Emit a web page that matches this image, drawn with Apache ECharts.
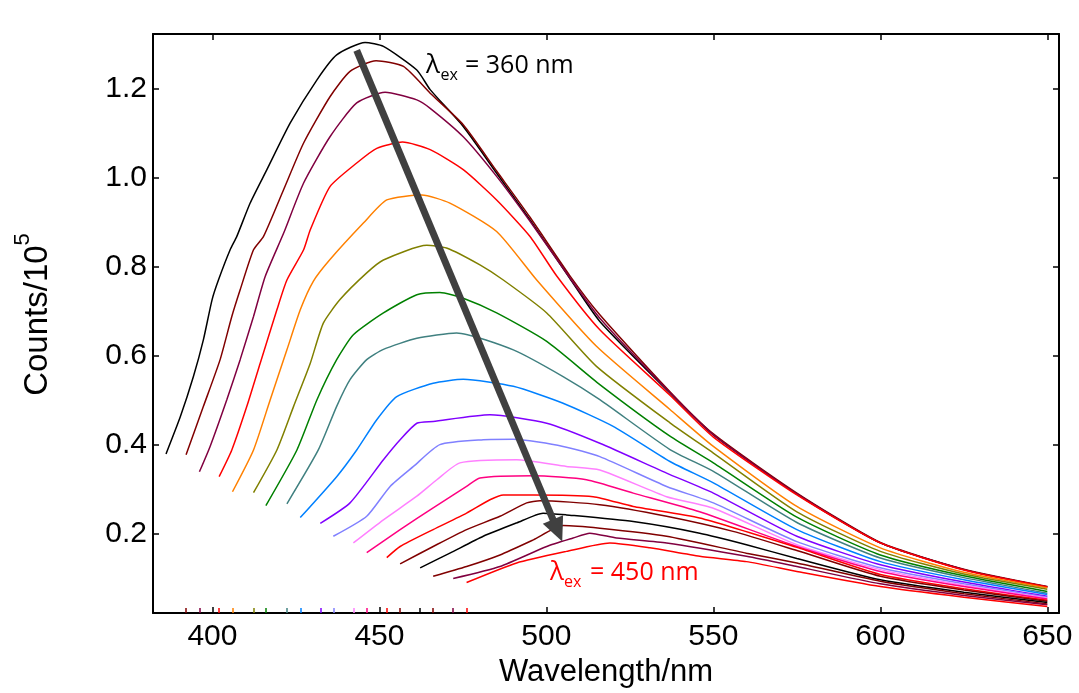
<!DOCTYPE html>
<html><head><meta charset="utf-8">
<script src="https://cdn.jsdelivr.net/npm/echarts@6/dist/echarts.min.js"></script>
<style>html,body{margin:0;padding:0;background:#fff}#c{width:1079px;height:693px}</style>
</head><body><div id="c"></div>
<script>
// Excitation wavelengths (nm), one emission curve each
const excitation = [360,365,370,375,380,385,390,395,400,405,410,415,420,425,430,435,440,445,450];
const curveColors = ['#000000','#800000','#800040','#ff0000','#ff8000','#808000','#008000','#408080','#0080ff','#8000ff','#8080ff','#ff80ff','#ff0080','#ff0000','#800000','#000000','#800000','#800040','#ff0000'];

// Emission spectra: [wavelength nm, counts/1e5]
const ex360 = [[386.1,0.380],[390.4,0.464],[394.3,0.554],[397.3,0.637],[399.9,0.727],[401.8,0.771],[405.3,0.839],[407.3,0.869],[411.3,0.944],[416.3,1.019],[423.3,1.124],[431.3,1.221],[437.2,1.277],[445.7,1.305],[451.2,1.296],[461.2,1.243],[465.2,1.199],[475.1,1.116],[485.1,1.011],[495.1,0.906],[507.0,0.775],[516,0.678],[537,0.517],[550,0.423],[575,0.290],[600,0.180],[625,0.120],[650,0.081]];
const ex365 = [[392.1,0.378],[397.3,0.487],[402.3,0.592],[405.8,0.689],[408.3,0.749],[412.3,0.839],[415.3,0.869],[421.3,0.974],[427.3,1.079],[435.2,1.183],[441.2,1.240],[449.0,1.264],[457.2,1.251],[465.2,1.191],[475.1,1.120],[485.1,1.016],[495.1,0.912],[507.0,0.781],[516,0.693],[537,0.520],[550,0.425],[575,0.292],[600,0.181],[625,0.121],[650,0.082]];
const ex370 = [[396.1,0.340],[399.3,0.397],[404.3,0.502],[408.3,0.592],[412.3,0.689],[415.8,0.779],[421.3,0.876],[427.3,0.989],[435.2,1.093],[443.2,1.169],[451.7,1.193],[461.2,1.176],[465.2,1.157],[475.1,1.093],[485.1,1.004],[495.1,0.903],[507.0,0.776],[516,0.685],[537,0.518],[550,0.423],[575,0.290],[600,0.180],[625,0.120],[650,0.081]];
const ex375 = [[402.0,0.329],[405.8,0.389],[410.3,0.487],[414.3,0.584],[419.3,0.704],[422.3,0.771],[427.3,0.839],[429.3,0.884],[435.2,0.981],[443.2,1.034],[449.2,1.067],[456.9,1.081],[465.2,1.064],[475.1,1.019],[485.1,0.951],[495.1,0.869],[503.1,0.780],[516,0.659],[537,0.512],[550,0.418],[575,0.288],[600,0.180],[625,0.119],[650,0.081]];
const ex380 = [[406.0,0.295],[412.3,0.389],[417.3,0.502],[422.3,0.614],[426.3,0.704],[430.2,0.768],[435.2,0.817],[445.2,0.899],[452.2,0.951],[462.7,0.962],[471.1,0.944],[485.1,0.880],[497.1,0.771],[515,0.622],[537,0.480],[550,0.397],[575,0.262],[600,0.169],[625,0.114],[650,0.079]];
const ex385 = [[412.3,0.293],[419.3,0.389],[424.3,0.487],[429.3,0.584],[433.2,0.674],[438.2,0.727],[446.2,0.787],[451.2,0.816],[464.2,0.849],[470.1,0.843],[480.1,0.805],[487.1,0.771],[500.1,0.697],[515,0.577],[537,0.450],[550,0.382],[575,0.250],[600,0.161],[625,0.110],[650,0.076]];
const ex390 = [[416.0,0.264],[425.3,0.389],[431.3,0.502],[437.2,0.592],[442.2,0.648],[451.2,0.697],[461.2,0.738],[468.1,0.743],[475.1,0.730],[485.1,0.697],[500.1,0.633],[516,0.536],[537,0.420],[550,0.360],[575,0.238],[600,0.153],[625,0.106],[650,0.071]];
const ex395 = [[422.3,0.268],[431.7,0.389],[437.2,0.487],[441.2,0.547],[446.2,0.592],[451.2,0.615],[461.2,0.640],[473.1,0.652],[490.1,0.614],[505.0,0.554],[516,0.502],[537,0.390],[550,0.341],[575,0.226],[600,0.146],[625,0.102],[650,0.067]];
const ex400 = [[426.3,0.237],[437.2,0.329],[443.2,0.389],[449.2,0.457],[455.2,0.509],[466.1,0.539],[475.1,0.548],[490.1,0.532],[505.0,0.494],[520.0,0.442],[537,0.363],[550,0.315],[575,0.210],[600,0.138],[625,0.097],[650,0.064]];
const ex405 = [[432.3,0.224],[441.2,0.270],[451.2,0.367],[456.2,0.412],[461.2,0.449],[466.1,0.453],[483.1,0.468],[500.1,0.449],[516,0.404],[536,0.337],[550,0.292],[575,0.195],[600,0.131],[625,0.092],[650,0.060]];
const ex410 = [[436.2,0.195],[446.2,0.240],[453.2,0.307],[460.2,0.352],[468.1,0.401],[481.1,0.412],[490.1,0.413],[505.0,0.397],[516,0.374],[536,0.307],[550,0.270],[575,0.183],[600,0.124],[625,0.088],[650,0.058]];
const ex415 = [[442.2,0.180],[451.2,0.232],[461.2,0.285],[467.2,0.322],[474.1,0.360],[491.1,0.367],[506.0,0.352],[516,0.344],[536,0.284],[550,0.258],[575,0.176],[600,0.120],[625,0.085],[650,0.056]];
const ex420 = [[446.2,0.158],[456.2,0.210],[466.1,0.259],[476.1,0.307],[480.1,0.326],[496.1,0.331],[512.0,0.322],[526.0,0.292],[545.9,0.250],[575,0.172],[600,0.116],[625,0.082],[650,0.054]];
const ex425 = [[452.2,0.147],[456.2,0.172],[466.1,0.210],[476.1,0.247],[483.1,0.277],[487.1,0.288],[496.1,0.288],[514.0,0.284],[526.0,0.262],[545.9,0.236],[575,0.170],[600,0.109],[625,0.077],[650,0.051]];
const ex430 = [[456.2,0.133],[466.1,0.172],[476.1,0.210],[486.1,0.240],[494.1,0.270],[498.1,0.275],[516.0,0.266],[536.0,0.240],[555.9,0.206],[575,0.163],[600,0.105],[625,0.074],[650,0.049]];
const ex435 = [[462.2,0.124],[471.1,0.157],[481.1,0.195],[491.1,0.225],[499.0,0.247],[506.0,0.243],[526.0,0.228],[545.9,0.202],[559.9,0.176],[575,0.145],[600,0.097],[625,0.069],[650,0.046]];
const ex440 = [[466.1,0.105],[476.1,0.127],[486.1,0.153],[496.1,0.187],[505.0,0.219],[516.0,0.213],[536.0,0.195],[559.9,0.157],[575,0.135],[600,0.094],[625,0.066],[650,0.043]];
const ex445 = [[472.1,0.100],[486.1,0.127],[500.1,0.172],[508.0,0.191],[513.0,0.202],[521.0,0.191],[536.0,0.180],[559.9,0.150],[575,0.127],[600,0.088],[625,0.062],[650,0.041]];
const ex450 = [[476.1,0.091],[491.1,0.135],[506.0,0.161],[519.0,0.180],[531.0,0.169],[545.9,0.150],[559.9,0.138],[575,0.116],[600,0.082],[625,0.058],[650,0.037]];

const curves = [ex360,ex365,ex370,ex375,ex380,ex385,ex390,ex395,ex400,ex405,ex410,ex415,ex420,ex425,ex430,ex435,ex440,ex445,ex450];

// Axis ticks and ranges
const xTicks = [400,450,500,550,600,650];
const yTicks = [0.2,0.4,0.6,0.8,1.0,1.2];
const xRange = [382.2, 653.5];
const yRange = [0.0225, 1.324];

// Arrow annotation (data coords): from first to last excitation
const arrowFrom = [443.2, 1.287];
const arrowTo = [503.35, 0.208];

const chart = echarts.init(document.getElementById('c'), null, {renderer:'canvas'});

const series = curves.map((d, i) => {
  const s = {
    type: 'line', name: '\u03bbex = ' + excitation[i] + ' nm', data: d,
    showSymbol: false, symbol: 'none', smooth: 0.2,
    lineStyle: {color: curveColors[i], width: 1.5}, itemStyle: {color: curveColors[i]},
    z: 2, animation: false
  };
  if (i > 0) {
    s.markLine = {
      silent: true, symbol: 'none', animation: false, label: {show: false},
      lineStyle: {color: curveColors[i], width: 1.5, type: 'solid'},
      data: [[{coord: [d[0][0], yRange[0]]}, {coord: [d[0][0], yRange[0] + 0.0115]}]]
    };
  }
  return s;
});

series.push({
  type: 'line', data: [], z: 10, animation: false, silent: true,
  markLine: {
    silent: true, animation: false, symbol: ['none', 'triangle'], symbolSize: [22, 24],
    label: {show: false},
    lineStyle: {color: '#404040', width: 7, type: 'solid'},
    itemStyle: {color: '#404040'},
    data: [[{coord: arrowFrom}, {coord: arrowTo}]]
  }
});

const axisFont = 'Liberation Sans';
chart.setOption({
  animation: false,
  backgroundColor: '#ffffff',
  grid: {left: 153, top: 34, right: 20, bottom: 80, containLabel: false},
  xAxis: [{
    type: 'value', min: xRange[0], max: xRange[1], position: 'bottom',
    axisLine: {show: true, onZero: false, lineStyle: {color: '#000', width: 2}},
    axisTick: {show: true, inside: true, length: 6, customValues: xTicks, lineStyle: {color: '#000', width: 1.5}},
    axisLabel: {customValues: xTicks, fontSize: 30, fontFamily: axisFont, color: '#000', margin: 9, formatter: v => String(Math.round(v))},
    splitLine: {show: false},
    name: 'Wavelength/nm', nameLocation: 'middle', nameGap: 43,
    nameTextStyle: {fontSize: 31, fontFamily: axisFont, color: '#000'}
  }, {
    type: 'value', min: xRange[0], max: xRange[1], position: 'top',
    axisLine: {show: true, onZero: false, lineStyle: {color: '#000', width: 2}},
    axisTick: {show: true, inside: true, length: 6, customValues: xTicks, lineStyle: {color: '#000', width: 1.5}},
    axisLabel: {show: false}, splitLine: {show: false}
  }],
  yAxis: [{
    type: 'value', min: yRange[0], max: yRange[1], position: 'left',
    axisLine: {show: true, onZero: false, lineStyle: {color: '#000', width: 2}},
    axisTick: {show: true, inside: true, length: 6, customValues: yTicks, lineStyle: {color: '#000', width: 1.5}},
    axisLabel: {customValues: yTicks, fontSize: 30, fontFamily: axisFont, color: '#000', margin: 6, formatter: v => v.toFixed(1)},
    splitLine: {show: false},
    name: '{b|Counts/10}{sup|5}', nameLocation: 'middle', nameGap: 99,
    nameTextStyle: {
      fontSize: 33, fontFamily: axisFont, color: '#000',
      rich: {
        b: {fontSize: 33, fontFamily: axisFont, color: '#000', lineHeight: 42, verticalAlign: 'bottom', padding: [0, 0, 0, 18]},
        sup: {fontSize: 22, fontFamily: axisFont, color: '#000', lineHeight: 22, verticalAlign: 'top'}
      }
    }
  }, {
    type: 'value', min: yRange[0], max: yRange[1], position: 'right',
    axisLine: {show: true, onZero: false, lineStyle: {color: '#000', width: 2}},
    axisTick: {show: true, inside: true, length: 6, customValues: yTicks, lineStyle: {color: '#000', width: 1.5}},
    axisLabel: {show: false}, splitLine: {show: false}
  }],
  series: series,
  graphic: [
    {type: 'text', x: 426, y: 66, z: 20, style: {text: '\u03bb', fill: '#000', font: '26px "Open Sans"', align: 'left', verticalAlign: 'middle'}},
    {type: 'text', x: 440.5, y: 75, z: 20, style: {text: 'ex', fill: '#000', font: '16px "Open Sans"', align: 'left', verticalAlign: 'middle'}},
    {type: 'text', x: 465, y: 66, z: 20, style: {text: '= 360 nm', fill: '#000', font: '25px "Open Sans"', align: 'left', verticalAlign: 'middle'}},
    {type: 'text', x: 550, y: 573, z: 20, style: {text: '\u03bb', fill: '#ff0000', font: '26px "Open Sans"', align: 'left', verticalAlign: 'middle'}},
    {type: 'text', x: 564, y: 582, z: 20, style: {text: 'ex', fill: '#ff0000', font: '16px "Open Sans"', align: 'left', verticalAlign: 'middle'}},
    {type: 'text', x: 590, y: 573, z: 20, style: {text: '= 450 nm', fill: '#ff0000', font: '25px "Open Sans"', align: 'left', verticalAlign: 'middle'}}
  ]
});
</script>
</body></html>
